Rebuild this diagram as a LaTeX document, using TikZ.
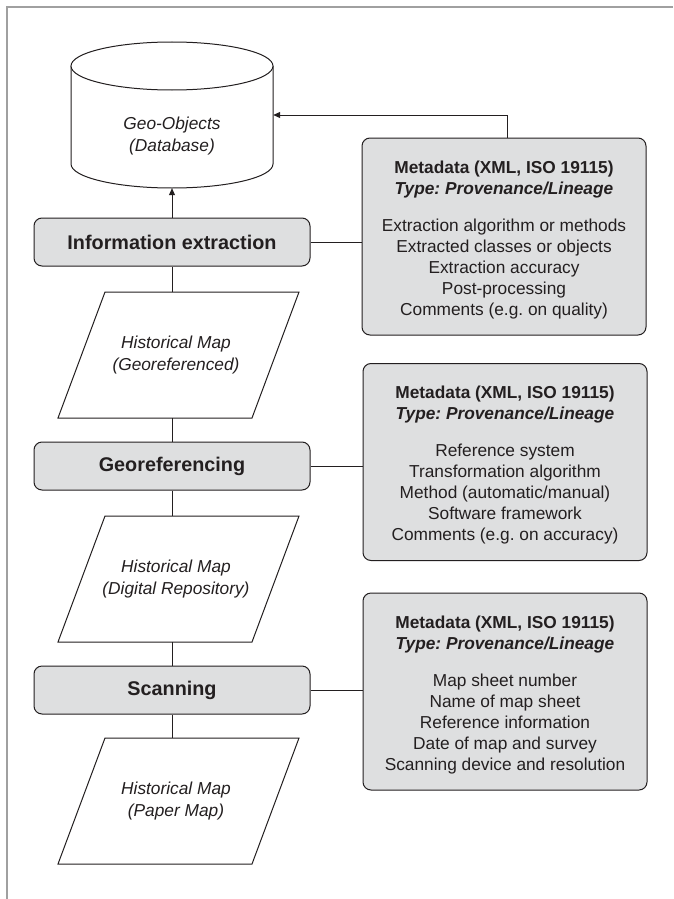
\documentclass[tikz,border=0pt]{standalone}
\usepackage{fontspec}
\setmainfont{Liberation Sans}
\usetikzlibrary{arrows.meta}
\definecolor{boxfill}{HTML}{DEDFE0}
\definecolor{ink}{HTML}{231F20}
\definecolor{framegray}{HTML}{A0A0A0}
\frenchspacing
\begin{document}
\begin{tikzpicture}[x=1pt,y=-1pt,
  every node/.style={text=ink, inner sep=0pt},
  procbox/.style={draw=ink, line width=1pt, fill=boxfill, rounded corners=8pt, minimum width=276pt, minimum height=48pt, font=\fontsize{19.8}{24}\selectfont\bfseries},
  metabox/.style={draw=ink, line width=1pt, fill=boxfill, rounded corners=8pt, minimum width=284pt, minimum height=197pt},
  metatext/.style={align=center, font=\fontsize{17.3}{21}\selectfont},
  itext/.style={align=center, font=\fontsize{17.3}{22}\selectfont\itshape},
  conn/.style={draw=ink, line width=1pt},
  outline/.style={draw=ink, line width=1pt, fill=white},
  arrowtip/.style={-{Triangle[length=7pt,width=6pt]}}
]
\useasboundingbox (0,0) rectangle (673,899);
\fill[white] (0,0) rectangle (673,899);
% frame
\draw[framegray, line width=1.5pt] (7,899) -- (7,7) -- (673,7);

% database cylinder
\node[minimum width=202pt, minimum height=146pt] (db) at (172,115) {};
\draw[outline] (71,66) -- (71,164) arc[start angle=180, end angle=0, x radius=101, y radius=24] -- (273,66);
\draw[outline] (172,66) ellipse [x radius=101, y radius=24];
\node[itext] (dbtext) at (172,136) {Geo-Objects\\(Database)};

% process boxes
\node[procbox] (info) at (172,242) {Information extraction};
\node[procbox] (geo) at (172,466) {Georeferencing};
\node[procbox] (scan) at (172,690) {Scanning};

% parallelograms
\draw[outline] (105,292) -- (299,292) -- (252,418) -- (58,418) -- cycle;
\node[itext] (p1) at (176,355) {Historical Map\\(Georeferenced)};
\coordinate (p1t) at (172,292);
\coordinate (p1b) at (172,418);

\draw[outline] (105,516) -- (299,516) -- (252,642) -- (58,642) -- cycle;
\node[itext] (p2) at (176,579) {Historical Map\\(Digital Repository)};
\coordinate (p2t) at (172,516);
\coordinate (p2b) at (172,642);

\draw[outline] (105,738) -- (299,738) -- (252,864) -- (58,864) -- cycle;
\node[itext] (p3) at (176,801) {Historical Map\\(Paper Map)};
\coordinate (p3t) at (172,738);

% metadata boxes
\node[metabox] (meta1) at (504,236.5) {};
\node[metatext] (meta1txt) at ([yshift=-3.5pt]meta1.center) {\textbf{Metadata (XML, ISO 19115)}\\
\textbf{\textit{Type: Provenance/Lineage}}\\[16pt]
Extraction algorithm or methods\\
Extracted classes or objects\\
Extraction accuracy\\
Post-processing\\
Comments (e.g. on quality)};

\node[metabox] (meta2) at (505,462) {};
\node[metatext] (meta2txt) at ([yshift=-3.5pt]meta2.center) {\textbf{Metadata (XML, ISO 19115)}\\
\textbf{\textit{Type: Provenance/Lineage}}\\[16pt]
Reference system\\
Transformation algorithm\\
Method (automatic/manual)\\
Software framework\\
Comments (e.g. on accuracy)};

\node[metabox] (meta3) at (505,691.5) {};
\node[metatext] (meta3txt) at ([yshift=-3.5pt]meta3.center) {\textbf{Metadata (XML, ISO 19115)}\\
\textbf{\textit{Type: Provenance/Lineage}}\\[16pt]
Map sheet number\\
Name of map sheet\\
Reference information\\
Date of map and survey\\
Scanning device and resolution};

% connectors
\draw[conn, arrowtip] (info.north) -- (db.south);
\draw[conn] (p1t) -- (info.south);
\draw[conn] (p1b) -- (geo.north);
\draw[conn] (geo.south) -- (p2t);
\draw[conn] (p2b) -- (scan.north);
\draw[conn] (scan.south) -- (p3t);

\draw[conn] (info.east) -- (info.east -| meta1.west);
\draw[conn] (geo.east) -- (geo.east -| meta2.west);
\draw[conn] (scan.east) -- (scan.east -| meta3.west);

\draw[conn, arrowtip] ([xshift=3pt]meta1.north) |- (db.east);
\end{tikzpicture}
\end{document}
